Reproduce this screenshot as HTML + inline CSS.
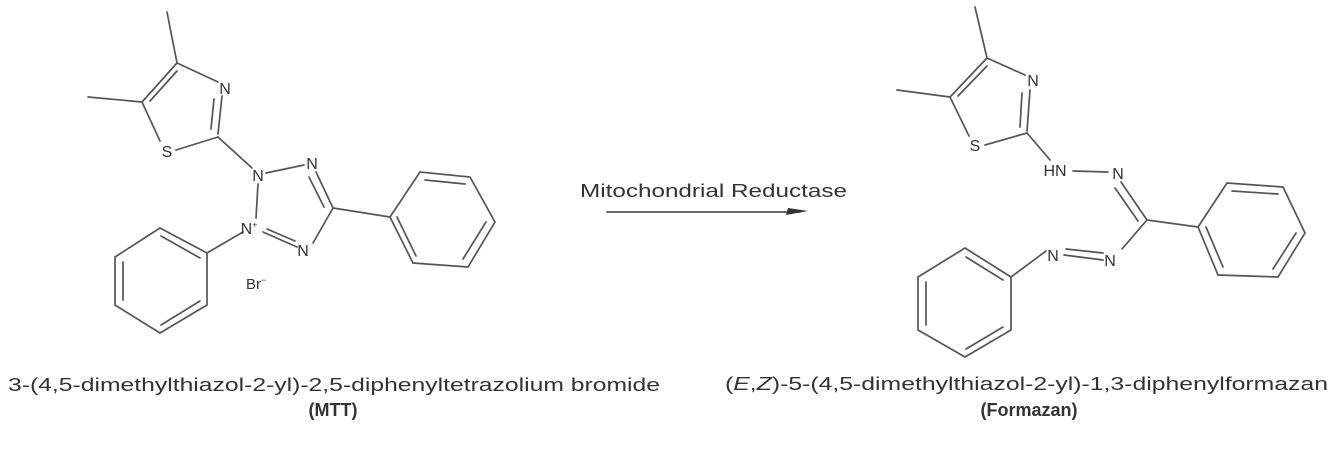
<!DOCTYPE html>
<html><head><meta charset="utf-8"><style>
html,body{margin:0;padding:0;background:#fff;}
svg{display:block;}
text{font-family:"Liberation Sans",Arial,sans-serif;fill:#333;}
</style></head><body>
<svg width="1340" height="473" viewBox="0 0 1340 473" xmlns="http://www.w3.org/2000/svg">
<g stroke="#555" stroke-width="1.7" fill="none" stroke-linecap="round">
<line x1="167" y1="12" x2="177" y2="63"/>
<line x1="88" y1="97" x2="142" y2="102"/>
<line x1="177" y1="63" x2="218" y2="82"/>
<line x1="222" y1="96" x2="218" y2="134"/>
<line x1="214" y1="99" x2="211" y2="129"/>
<line x1="218" y1="137" x2="176" y2="150"/>
<line x1="160" y1="141" x2="142" y2="102"/>
<line x1="142" y1="102" x2="177" y2="63"/>
<line x1="150" y1="101" x2="177" y2="71"/>
<line x1="218" y1="137" x2="252" y2="168"/>
<line x1="266" y1="173" x2="304" y2="165"/>
<line x1="316" y1="172" x2="333" y2="208"/>
<line x1="309" y1="177" x2="324" y2="207"/>
<line x1="333" y1="208" x2="313" y2="243"/>
<line x1="297" y1="247" x2="263" y2="232"/>
<line x1="295" y1="241" x2="267" y2="229"/>
<line x1="256" y1="218" x2="258" y2="184"/>
<line x1="333" y1="208" x2="390" y2="217"/>
<polygon points="390,217 420,172 470,177 495,222 468,267 413,263"/>
<line x1="425" y1="180" x2="465" y2="184"/>
<line x1="486" y1="222" x2="463" y2="259"/>
<line x1="397" y1="217" x2="416" y2="256"/>
<line x1="243" y1="232" x2="207" y2="253"/>
<polygon points="160,228 207,253 207,305 160,333 115,305 115,257"/>
<line x1="161" y1="236" x2="200" y2="258"/>
<line x1="123" y1="262" x2="123" y2="300"/>
<line x1="161" y1="325" x2="200" y2="301"/>
<line x1="975" y1="7" x2="987" y2="58"/>
<line x1="897" y1="90" x2="950" y2="97"/>
<line x1="987" y1="58" x2="1025" y2="75"/>
<line x1="1030" y1="90" x2="1027" y2="131"/>
<line x1="1022" y1="93" x2="1020" y2="127"/>
<line x1="1027" y1="133" x2="985" y2="145"/>
<line x1="969" y1="136" x2="950" y2="97"/>
<line x1="950" y1="97" x2="987" y2="58"/>
<line x1="958" y1="96" x2="987" y2="66"/>
<line x1="1027" y1="133" x2="1050" y2="160"/>
<line x1="1073" y1="171" x2="1108" y2="172"/>
<line x1="1121" y1="182" x2="1147" y2="220"/>
<line x1="1115" y1="188" x2="1138" y2="221"/>
<line x1="1147" y1="220" x2="1122" y2="249"/>
<line x1="1103" y1="260" x2="1064" y2="255"/>
<line x1="1103" y1="253" x2="1066" y2="249"/>
<line x1="1046" y1="251" x2="1011" y2="277"/>
<line x1="1147" y1="220" x2="1198" y2="227"/>
<polygon points="1198,227 1227,183 1283,187 1305,233 1278,277 1218,275"/>
<line x1="1232" y1="191" x2="1278" y2="194"/>
<line x1="1296" y1="233" x2="1273" y2="269"/>
<line x1="1206" y1="227" x2="1223" y2="267"/>
<polygon points="965,248 1011,277 1011,330 965,357 918,330 918,277"/>
<line x1="966" y1="257" x2="1003" y2="280"/>
<line x1="926" y1="282" x2="926" y2="325"/>
<line x1="966" y1="349" x2="1003" y2="327"/>
<line x1="607" y1="212" x2="800" y2="212" stroke-width="1.8"/>
</g>
<polygon points="808,211 786,215 788,208" fill="#333"/>
<g font-size="16">
<text x="225" y="94" text-anchor="middle">N</text>
<text x="167" y="157" text-anchor="middle">S</text>
<text x="258" y="181" text-anchor="middle">N</text>
<text x="312" y="169" text-anchor="middle">N</text>
<text x="303" y="256" text-anchor="middle">N</text>
<text x="249" y="234" text-anchor="middle">N<tspan font-size="9" dy="-6">+</tspan></text>
<text x="246" y="289" font-size="15">Br<tspan font-size="9" dy="-6">−</tspan></text>
<text x="1033" y="86" text-anchor="middle">N</text>
<text x="975" y="151" text-anchor="middle">S</text>
<text x="1055" y="176" text-anchor="middle">HN</text>
<text x="1118" y="179" text-anchor="middle">N</text>
<text x="1110" y="266" text-anchor="middle">N</text>
<text x="1053" y="261" text-anchor="middle">N</text>
</g>
<text x="580" y="197" font-size="18" textLength="267" lengthAdjust="spacingAndGlyphs">Mitochondrial Reductase</text>
<text x="8" y="391" font-size="18" textLength="652" lengthAdjust="spacingAndGlyphs">3-(4,5-dimethylthiazol-2-yl)-2,5-diphenyltetrazolium bromide</text>
<text x="333" y="416" font-size="18" font-weight="bold" text-anchor="middle">(MTT)</text>
<text x="725" y="390" font-size="18" textLength="603" lengthAdjust="spacingAndGlyphs">(<tspan font-style="italic">E</tspan>,<tspan font-style="italic">Z</tspan>)-5-(4,5-dimethylthiazol-2-yl)-1,3-diphenylformazan</text>
<text x="1029" y="416" font-size="18" font-weight="bold" text-anchor="middle">(Formazan)</text>
</svg>
</body></html>
